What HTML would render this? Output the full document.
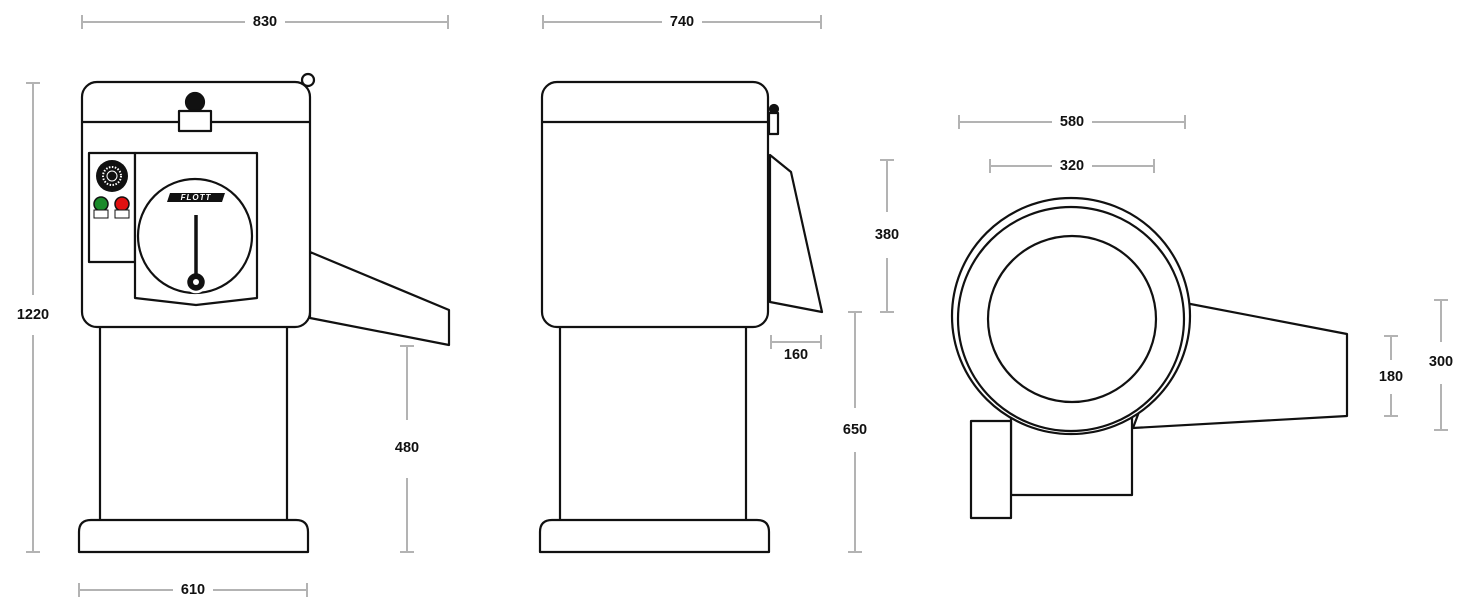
<!DOCTYPE html>
<html><head><meta charset="utf-8"><style>
html,body{margin:0;padding:0;background:#fff;width:1470px;height:612px;overflow:hidden}
svg{display:block}
.d{stroke:#b3b3b3;stroke-width:2;fill:none}
.s{stroke:#111;stroke-width:2.2;fill:#fff;stroke-linejoin:round}
text{font-family:"Liberation Sans",sans-serif;font-size:14.5px;font-weight:bold;fill:#111;text-anchor:middle;dominant-baseline:central}
</style></head><body>
<svg width="1470" height="612" viewBox="0 0 1470 612">
<!-- dimensions -->
<g class="d">
<path d="M82 22H245M285 22H448M82 15V29M448 15V29"/>
<path d="M543 22H662M702 22H821M543 15V29M821 15V29"/>
<path d="M959 122H1052M1092 122H1185M959 115V129M1185 115V129"/>
<path d="M990 166H1052M1092 166H1154M990 159V173M1154 159V173"/>
<path d="M33 83V295M33 335V552M26 83H40M26 552H40"/>
<path d="M136 356H176M216 356H256M136 349V363M256 349V363"/>
<path d="M407 346V420M407 478V552M400 346H414M400 552H414"/>
<path d="M887 160V212M887 258V312M880 160H894M880 312H894"/>
<path d="M771 342H821M771 335V349M821 335V349"/>
<path d="M855 312V408M855 452V552M848 312H862M848 552H862"/>
<path d="M1391 336V360M1391 394V416M1384 336H1398M1384 416H1398"/>
<path d="M1441 300V342M1441 384V430M1434 300H1448M1434 430H1448"/>
<path d="M79 590H173M213 590H307M79 583V597M307 583V597"/>
</g>
<text x="265" y="22">830</text>
<text x="682" y="22">740</text>
<text x="1072" y="122">580</text>
<text x="1072" y="166">320</text>
<text x="33" y="315">1220</text>
<text x="196" y="356">310</text>
<text x="407" y="448">480</text>
<text x="887" y="235">380</text>
<text x="796" y="355">160</text>
<text x="855" y="430">650</text>
<text x="1391" y="377">180</text>
<text x="1441" y="362">300</text>
<text x="193" y="590">610</text>

<!-- FRONT VIEW -->
<g class="s">
<path d="M310 252L449 310V345L310 318Z"/>
<rect x="100" y="326" width="187" height="195"/>
<path d="M79 552V532Q79 520 91 520H296Q308 520 308 532V552Z"/>
<rect x="82" y="82" width="228" height="245" rx="15"/>
<line x1="82" y1="122" x2="310" y2="122"/>
<circle cx="308" cy="80" r="6"/>
<circle cx="195" cy="102" r="9" style="fill:#111"/>
<rect x="179" y="111" width="32" height="20"/>
<rect x="89" y="153" width="46" height="109"/>
<path d="M135 153H257V298L196 305L135 298Z"/>
<circle cx="195" cy="236" r="57"/>
<circle cx="196" cy="282" r="10" style="fill:#111;stroke:#fff;stroke-width:2.5"/>
<circle cx="196" cy="282" r="3" style="fill:#fff;stroke:none"/>
<line x1="196" y1="215" x2="196" y2="278" style="stroke-width:3.5"/>
</g>
<polygon points="170,193 225,193 222,202 167,202" fill="#111"/>
<text x="196" y="197.5" style="font-size:8px;fill:#fff;font-style:italic;letter-spacing:1px">FLOTT</text>
<circle cx="112" cy="176" r="16" fill="#111"/>
<circle cx="112" cy="176" r="9" fill="none" stroke="#fff" stroke-width="2" stroke-dasharray="1.5 1.5"/>
<circle cx="112" cy="176" r="5" fill="#111" stroke="#fff" stroke-width="1"/>
<circle cx="101" cy="204" r="7" fill="#1a8a2a" stroke="#111" stroke-width="1.5"/>
<circle cx="122" cy="204" r="7" fill="#e01010" stroke="#111" stroke-width="1.5"/>
<rect x="94" y="210" width="14" height="8" fill="#fff" stroke="#111" stroke-width="1"/>
<rect x="115" y="210" width="14" height="8" fill="#fff" stroke="#111" stroke-width="1"/>

<!-- SIDE VIEW -->
<g class="s">
<path d="M770 155L791 172L822 312L770 302Z"/>
<rect x="560" y="326" width="186" height="195"/>
<path d="M540 552V532Q540 520 552 520H757Q769 520 769 532V552Z"/>
<rect x="542" y="82" width="226" height="245" rx="15"/>
<line x1="542" y1="122" x2="768" y2="122"/>
<circle cx="774" cy="109" r="4" style="fill:#111"/>
<rect x="769" y="113" width="9" height="21"/>
</g>

<!-- TOP VIEW -->
<g class="s">
<path d="M1180 302L1347 334V416L1133 428Z"/>
<rect x="1011" y="410" width="121" height="85"/>
<rect x="971" y="421" width="40" height="97"/>
<ellipse cx="1071" cy="316" rx="119" ry="118"/>
<ellipse cx="1071" cy="319" rx="113" ry="112"/>
<ellipse cx="1072" cy="319" rx="84" ry="83"/>
</g>
</svg>
</body></html>
